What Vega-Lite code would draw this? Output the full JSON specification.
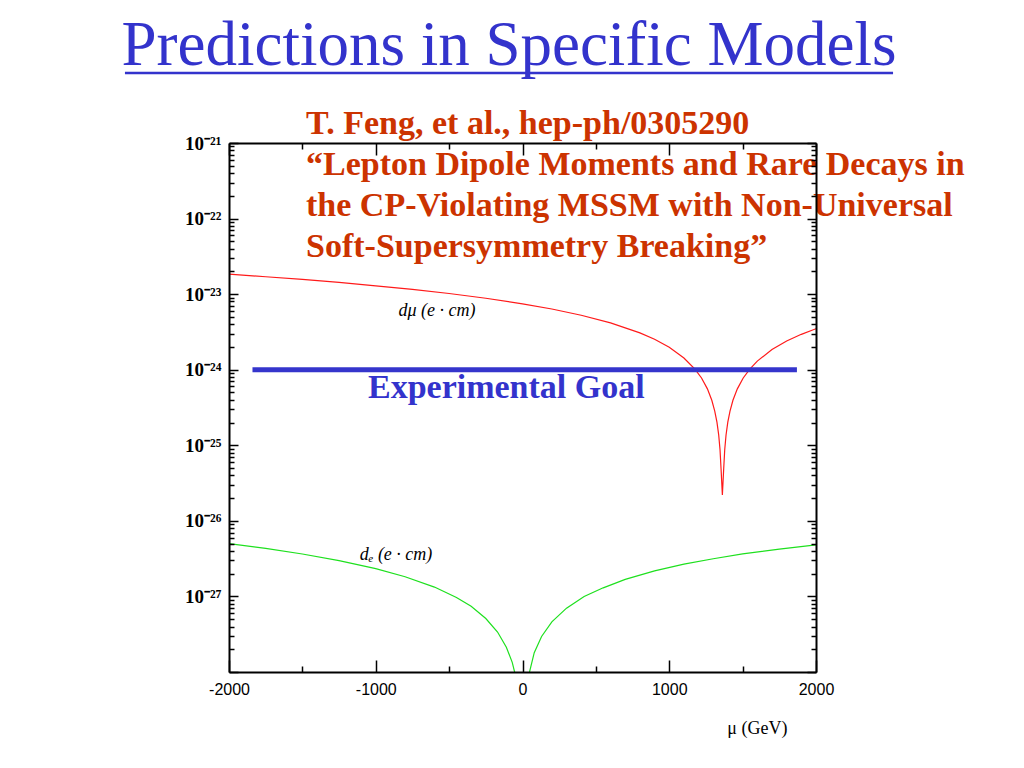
{
  "$schema": "https://vega.github.io/schema/vega-lite/v6.json",
  "width": 587,
  "height": 529,
  "autosize": {"type": "none"},
  "padding": {"left": 229, "top": 143, "right": 208, "bottom": 96},
  "background": "white",
  "config": {"view": {"stroke": null}},
  "datasets": {
    "curves": [
      {"series": "d_mu", "mu": -2000, "d": 1.84e-23},
      {"series": "d_mu", "mu": -1750, "d": 1.70e-23},
      {"series": "d_mu", "mu": -1500, "d": 1.566e-23},
      {"series": "d_mu", "mu": -1250, "d": 1.43e-23},
      {"series": "d_mu", "mu": -1000, "d": 1.29e-23},
      {"series": "d_mu", "mu": -750, "d": 1.155e-23},
      {"series": "d_mu", "mu": -500, "d": 1.02e-23},
      {"series": "d_mu", "mu": -250, "d": 8.82e-24},
      {"series": "d_mu", "mu": 0, "d": 7.45e-24},
      {"series": "d_mu", "mu": 200, "d": 6.36e-24},
      {"series": "d_mu", "mu": 400, "d": 5.26e-24},
      {"series": "d_mu", "mu": 600, "d": 4.17e-24},
      {"series": "d_mu", "mu": 800, "d": 3.07e-24},
      {"series": "d_mu", "mu": 900, "d": 2.53e-24},
      {"series": "d_mu", "mu": 1000, "d": 1.98e-24},
      {"series": "d_mu", "mu": 1100, "d": 1.43e-24},
      {"series": "d_mu", "mu": 1175, "d": 1.02e-24},
      {"series": "d_mu", "mu": 1220, "d": 7.77e-25},
      {"series": "d_mu", "mu": 1260, "d": 5.58e-25},
      {"series": "d_mu", "mu": 1290, "d": 3.94e-25},
      {"series": "d_mu", "mu": 1310, "d": 2.84e-25},
      {"series": "d_mu", "mu": 1325, "d": 2.02e-25},
      {"series": "d_mu", "mu": 1337, "d": 1.37e-25},
      {"series": "d_mu", "mu": 1346, "d": 8.75e-26},
      {"series": "d_mu", "mu": 1353, "d": 4.9e-26},
      {"series": "d_mu", "mu": 1362, "d": 2.2e-26},
      {"series": "d_mu", "mu": 1371, "d": 4.9e-26},
      {"series": "d_mu", "mu": 1378, "d": 8.75e-26},
      {"series": "d_mu", "mu": 1387, "d": 1.37e-25},
      {"series": "d_mu", "mu": 1399, "d": 2.02e-25},
      {"series": "d_mu", "mu": 1414, "d": 2.84e-25},
      {"series": "d_mu", "mu": 1434, "d": 3.94e-25},
      {"series": "d_mu", "mu": 1464, "d": 5.58e-25},
      {"series": "d_mu", "mu": 1504, "d": 7.77e-25},
      {"series": "d_mu", "mu": 1549, "d": 1.02e-24},
      {"series": "d_mu", "mu": 1600, "d": 1.30e-24},
      {"series": "d_mu", "mu": 1700, "d": 1.85e-24},
      {"series": "d_mu", "mu": 1800, "d": 2.40e-24},
      {"series": "d_mu", "mu": 1900, "d": 2.94e-24},
      {"series": "d_mu", "mu": 2000, "d": 3.49e-24},
      {"series": "d_e", "mu": -2000, "d": 5.0e-27},
      {"series": "d_e", "mu": -1750, "d": 4.32e-27},
      {"series": "d_e", "mu": -1500, "d": 3.64e-27},
      {"series": "d_e", "mu": -1250, "d": 2.98e-27},
      {"series": "d_e", "mu": -1000, "d": 2.33e-27},
      {"series": "d_e", "mu": -800, "d": 1.82e-27},
      {"series": "d_e", "mu": -600, "d": 1.33e-27},
      {"series": "d_e", "mu": -450, "d": 9.7e-28},
      {"series": "d_e", "mu": -350, "d": 7.4e-28},
      {"series": "d_e", "mu": -250, "d": 5.1e-28},
      {"series": "d_e", "mu": -170, "d": 3.38e-28},
      {"series": "d_e", "mu": -110, "d": 2.13e-28},
      {"series": "d_e", "mu": -70, "d": 1.34e-28},
      {"series": "d_e", "mu": -40, "d": 7.8e-29},
      {"series": "d_e", "mu": -15, "d": 3.3e-29},
      {"series": "d_e", "mu": 5, "d": 3e-30},
      {"series": "d_e", "mu": 20, "d": 3.5e-29},
      {"series": "d_e", "mu": 45, "d": 9.5e-29},
      {"series": "d_e", "mu": 80, "d": 1.8e-28},
      {"series": "d_e", "mu": 130, "d": 2.95e-28},
      {"series": "d_e", "mu": 200, "d": 4.6e-28},
      {"series": "d_e", "mu": 300, "d": 7.0e-28},
      {"series": "d_e", "mu": 420, "d": 1.0e-27},
      {"series": "d_e", "mu": 550, "d": 1.3e-27},
      {"series": "d_e", "mu": 700, "d": 1.68e-27},
      {"series": "d_e", "mu": 900, "d": 2.18e-27},
      {"series": "d_e", "mu": 1100, "d": 2.67e-27},
      {"series": "d_e", "mu": 1300, "d": 3.15e-27},
      {"series": "d_e", "mu": 1500, "d": 3.65e-27},
      {"series": "d_e", "mu": 1750, "d": 4.23e-27},
      {"series": "d_e", "mu": 2000, "d": 4.8e-27}
    ],
    "goal": [{"x1": -1840, "x2": 1870, "y": 1e-24}],
    "labels": [
      {"kind": "title", "x": -92, "y": 1.08e-20, "text": "Predictions in Specific Models"},
      {"kind": "cite", "x": -1475, "y": 1.31e-21, "text": "T. Feng, et al., hep-ph/0305290\n“Lepton Dipole Moments and Rare Decays in\nthe CP-Violating MSSM with Non-Universal\nSoft-Supersymmetry Breaking”"},
      {"kind": "goal", "x": -1053, "y": 4.2e-25, "text": "Experimental Goal"},
      {"kind": "curve", "x": -583, "y": 5.1e-24, "text": "dμ  (e · cm)"},
      {"kind": "curve", "x": -862, "y": 3.0e-27, "text": "dₑ  (e · cm)"}
    ],
    "underline": [{"u1": -2709, "u2": 2525, "uy": 8.45e-21}]
  },
  "layer": [
    {
      "data": {"name": "curves"},
      "mark": {"type": "line", "clip": true, "strokeWidth": 1.2},
      "encoding": {
        "x": {
          "field": "mu", "type": "quantitative",
          "scale": {"domain": [-2000, 2000], "nice": false, "zero": false},
          "axis": {
            "orient": "bottom",
            "values": [-2000, -1500, -1000, -500, 0, 500, 1000, 1500, 2000],
            "labelExpr": "datum.value % 1000 === 0 ? toString(datum.value) : ''",
            "labelFont": "Liberation Sans", "labelFontSize": 16, "labelColor": "black",
            "labelPadding": 21, "labelOverlap": false, "labelFlush": false,
            "tickColor": "black", "tickWidth": 1.5,
            "tickSize": {"condition": {"test": "datum.value % 1000 === 0", "value": -12}, "value": -6},
            "domainColor": "black", "domainWidth": 2, "grid": false, "zindex": 1,
            "title": "μ (GeV)", "titleFont": "Liberation Serif", "titleFontSize": 18,
            "titleFontWeight": "normal", "titleColor": "black", "titleAnchor": "end",
            "titleX": 558, "titlePadding": 16
          }
        },
        "y": {
          "field": "d", "type": "quantitative",
          "scale": {"type": "log", "domain": [1e-28, 1e-21], "nice": false},
          "axis": {
            "orient": "left",
            "values": [1e-28, 2e-28, 3e-28, 4e-28, 5e-28, 6e-28, 7e-28, 8e-28, 9e-28,
                       1e-27, 2e-27, 3e-27, 4e-27, 5e-27, 6e-27, 7e-27, 8e-27, 9e-27,
                       1e-26, 2e-26, 3e-26, 4e-26, 5e-26, 6e-26, 7e-26, 8e-26, 9e-26,
                       1e-25, 2e-25, 3e-25, 4e-25, 5e-25, 6e-25, 7e-25, 8e-25, 9e-25,
                       1e-24, 2e-24, 3e-24, 4e-24, 5e-24, 6e-24, 7e-24, 8e-24, 9e-24,
                       1e-23, 2e-23, 3e-23, 4e-23, 5e-23, 6e-23, 7e-23, 8e-23, 9e-23,
                       1e-22, 2e-22, 3e-22, 4e-22, 5e-22, 6e-22, 7e-22, 8e-22, 9e-22, 1e-21],
            "labelExpr": "abs(log(datum.value)/LN10 - round(log(datum.value)/LN10)) < 0.001 && datum.value > 2e-28 ? '10⁻²' + ['⁰','¹','²','³','⁴','⁵','⁶','⁷','⁸','⁹'][-round(log(datum.value)/LN10) - 20] : ''",
            "labelFont": "Liberation Serif", "labelFontWeight": "bold", "labelFontSize": 19,
            "labelColor": "black", "labelPadding": 17, "labelOverlap": false, "labelFlush": false,
            "tickColor": "black", "tickWidth": 1.5,
            "tickSize": {"condition": {"test": "abs(log(datum.value)/LN10 - round(log(datum.value)/LN10)) < 0.001", "value": -9}, "value": -5},
            "domainColor": "black", "domainWidth": 2, "grid": false, "zindex": 1, "title": null
          }
        },
        "color": {
          "field": "series", "type": "nominal",
          "scale": {"domain": ["d_mu", "d_e"], "range": ["#ff1a1a", "#1ee01e"]},
          "legend": null
        }
      }
    },
    {
      "data": {"name": "goal"},
      "mark": {"type": "rule", "strokeWidth": 5, "color": "#3535cc"},
      "encoding": {
        "x": {
          "field": "x1", "type": "quantitative",
          "scale": {"domain": [-2000, 2000], "nice": false, "zero": false},
          "axis": {
            "orient": "top",
            "values": [-2000, -1500, -1000, -500, 0, 500, 1000, 1500, 2000],
            "labels": false,
            "tickColor": "black", "tickWidth": 1.5,
            "tickSize": {"condition": {"test": "datum.value % 1000 === 0", "value": -12}, "value": -6},
            "domainColor": "black", "domainWidth": 2, "grid": false, "zindex": 1, "title": null
          }
        },
        "x2": {"field": "x2"},
        "y": {
          "field": "y", "type": "quantitative",
          "scale": {"type": "log", "domain": [1e-28, 1e-21], "nice": false},
          "axis": {
            "orient": "right",
            "values": [1e-28, 2e-28, 3e-28, 4e-28, 5e-28, 6e-28, 7e-28, 8e-28, 9e-28,
                       1e-27, 2e-27, 3e-27, 4e-27, 5e-27, 6e-27, 7e-27, 8e-27, 9e-27,
                       1e-26, 2e-26, 3e-26, 4e-26, 5e-26, 6e-26, 7e-26, 8e-26, 9e-26,
                       1e-25, 2e-25, 3e-25, 4e-25, 5e-25, 6e-25, 7e-25, 8e-25, 9e-25,
                       1e-24, 2e-24, 3e-24, 4e-24, 5e-24, 6e-24, 7e-24, 8e-24, 9e-24,
                       1e-23, 2e-23, 3e-23, 4e-23, 5e-23, 6e-23, 7e-23, 8e-23, 9e-23,
                       1e-22, 2e-22, 3e-22, 4e-22, 5e-22, 6e-22, 7e-22, 8e-22, 9e-22, 1e-21],
            "labels": false,
            "tickColor": "black", "tickWidth": 1.5,
            "tickSize": {"condition": {"test": "abs(log(datum.value)/LN10 - round(log(datum.value)/LN10)) < 0.001", "value": -9}, "value": -5},
            "domainColor": "black", "domainWidth": 2, "grid": false, "zindex": 1, "title": null
          }
        }
      }
    },
    {
      "data": {"name": "underline"},
      "mark": {"type": "rule", "strokeWidth": 2.5, "color": "#3333cc"},
      "encoding": {
        "x": {"field": "u1", "type": "quantitative", "scale": {"domain": [-2000, 2000], "nice": false, "zero": false}, "axis": null},
        "x2": {"field": "u2"},
        "y": {"field": "uy", "type": "quantitative", "scale": {"type": "log", "domain": [1e-28, 1e-21], "nice": false}, "axis": null}
      }
    },
    {
      "data": {"name": "labels"},
      "transform": [{"filter": "datum.kind === 'title'"}],
      "mark": {"type": "text", "font": "Liberation Serif", "fontSize": 63, "color": "#3333cc", "align": "center", "baseline": "alphabetic"},
      "encoding": {
        "x": {"field": "x", "type": "quantitative", "scale": {"domain": [-2000, 2000], "nice": false, "zero": false}, "axis": null},
        "y": {"field": "y", "type": "quantitative", "scale": {"type": "log", "domain": [1e-28, 1e-21], "nice": false}, "axis": null},
        "text": {"field": "text"}
      }
    },
    {
      "data": {"name": "labels"},
      "transform": [{"filter": "datum.kind === 'cite'"}],
      "mark": {"type": "text", "font": "Liberation Serif", "fontSize": 34, "fontWeight": "bold", "color": "#cc3300", "align": "left", "baseline": "alphabetic", "lineBreak": "\n", "lineHeight": 41},
      "encoding": {
        "x": {"field": "x", "type": "quantitative", "scale": {"domain": [-2000, 2000], "nice": false, "zero": false}, "axis": null},
        "y": {"field": "y", "type": "quantitative", "scale": {"type": "log", "domain": [1e-28, 1e-21], "nice": false}, "axis": null},
        "text": {"field": "text"}
      }
    },
    {
      "data": {"name": "labels"},
      "transform": [{"filter": "datum.kind === 'goal'"}],
      "mark": {"type": "text", "font": "Liberation Serif", "fontSize": 34, "fontWeight": "bold", "color": "#3333cc", "align": "left", "baseline": "alphabetic"},
      "encoding": {
        "x": {"field": "x", "type": "quantitative", "scale": {"domain": [-2000, 2000], "nice": false, "zero": false}, "axis": null},
        "y": {"field": "y", "type": "quantitative", "scale": {"type": "log", "domain": [1e-28, 1e-21], "nice": false}, "axis": null},
        "text": {"field": "text"}
      }
    },
    {
      "data": {"name": "labels"},
      "transform": [{"filter": "datum.kind === 'curve'"}],
      "mark": {"type": "text", "font": "Liberation Serif", "fontSize": 18, "fontStyle": "italic", "color": "black", "align": "center", "baseline": "alphabetic"},
      "encoding": {
        "x": {"field": "x", "type": "quantitative", "scale": {"domain": [-2000, 2000], "nice": false, "zero": false}, "axis": null},
        "y": {"field": "y", "type": "quantitative", "scale": {"type": "log", "domain": [1e-28, 1e-21], "nice": false}, "axis": null},
        "text": {"field": "text"}
      }
    }
  ],
  "resolve": {"axis": {"x": "independent", "y": "independent"}}
}
